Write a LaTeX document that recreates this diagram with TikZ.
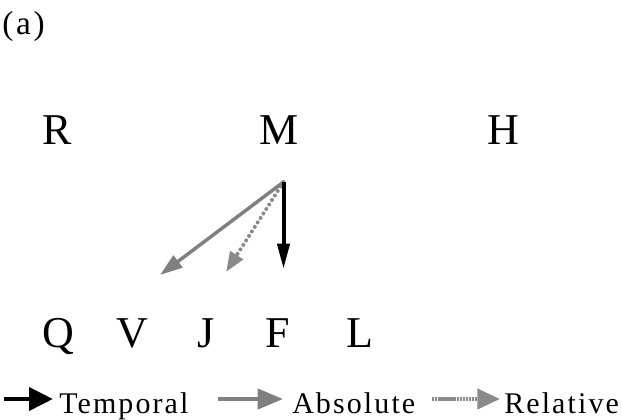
\documentclass[tikz,border=0pt]{standalone}
\usepackage{fontspec}
\setmainfont{Liberation Serif}
\usetikzlibrary{arrows.meta,positioning}
\definecolor{linkgrey}{HTML}{808080}
\definecolor{dotgrey}{HTML}{8A8A8A}

\tikzset{
  letter/.style={font=\fontsize{33}{36}\selectfont, inner sep=0pt, anchor=base},
  keytext/.style={font=\fontsize{22.5}{26}\selectfont\addfontfeatures{LetterSpace=7},
    inner sep=0pt, anchor=base west},
  temporal/.style={line width=3pt, black, -{Triangle[length=19pt,width=9pt]}},
  absolute/.style={line width=2.6pt, linkgrey, -{Triangle[length=17pt,width=11pt]}},
  relative/.style={line width=3pt, dotgrey, line cap=round,
    dash pattern=on 0pt off 4pt, -{Triangle[length=15pt,width=11pt]}},
  keytemporal/.style={line width=3.6pt, black, -{Triangle[length=18pt,width=17pt]}},
  keyabsolute/.style={line width=3.2pt, linkgrey, -{Triangle[length=19pt,width=15pt]}},
  keyrelative/.style={line width=3pt, dotgrey, dash pattern=on 1.8pt off 0.5pt,
    -{Triangle[length=17pt,width=15pt]}},
}

\begin{document}
\begin{tikzpicture}[x=0.75pt, y=-0.75pt]
  \useasboundingbox (0,0) rectangle (622,419);

  \node[font=\fontsize{25}{30}\selectfont\addfontfeatures{LetterSpace=8},
    inner sep=0pt, anchor=base west] (panel) at (2,34) {(a)};

  % upper row
  \node[letter] (R) at (57.5,144) {R};
  \node[letter] (M) at (279.5,144) {M};
  \node[letter] (H) at (503.5,144) {H};

  % lower row
  \node[letter] (Q) at (58,347) {Q};
  \node[letter] (V) at (132,347) {V};
  \node[letter] (J) at (206.5,347) {J};
  \node[letter] (F) at (277.5,347) {F};
  \node[letter] (L) at (360,347) {L};

  % links out of M
  \coordinate (src) at (283.5,182);
  \coordinate (absend) at (160,275);
  \coordinate (relend) at (226,272);
  \coordinate (tmpend) at (283.5,269);
  \draw[absolute] (src) -- (absend);
  \draw[relative] (src) -- (relend);
  \draw[temporal] (src) -- (tmpend);

  % key
  \coordinate (t0) at (4,399);
  \coordinate (t1) at (53,399);
  \coordinate (a0) at (218,399);
  \coordinate (a1) at (283,399);
  \coordinate (r0) at (432,399);
  \coordinate (r1) at (500,399);
  \draw[keytemporal] (t0) -- (t1);
  \draw[keyabsolute] (a0) -- (a1);
  \draw[keyrelative] (r0) -- (r1);
  \node[keytext] (tkey) at (59,413) {Temporal};
  \node[keytext] (akey) at (292,413) {Absolute};
  \node[keytext] (rkey) at (504,413) {Relative};
\end{tikzpicture}
\end{document}
